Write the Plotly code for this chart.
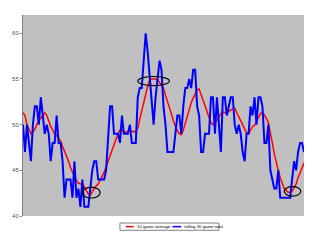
import plotly.graph_objects as go

games = list(range(143))

rolling_total = [
    50, 47, 50, 48, 46, 50, 52, 52, 50, 53, 51, 49, 50, 49, 46, 48, 48, 51, 48, 48,
    46, 42, 44, 44, 44, 42, 46, 42, 43, 41, 44, 41, 41, 41, 43, 45, 46, 46, 44, 44,
    44, 44, 45, 48, 52, 52, 49, 49, 49, 48, 51, 49, 49, 49, 50, 48, 48, 48, 53, 54,
    54, 57, 60, 58, 55, 52, 50, 53, 55, 57, 56, 52, 50, 47, 47, 47, 47, 49, 51, 51,
    49, 52, 54, 54, 55, 54, 56, 56, 52, 51, 47, 47, 49, 49, 49, 53, 53, 49, 53, 50,
    47, 53, 53, 51, 52, 53, 53, 50, 49, 50, 49, 47, 46, 49, 49, 52, 51, 53, 50, 53,
    53, 52, 48, 48, 50, 45, 44, 43, 43, 45, 42, 42, 42, 42, 42, 42, 44, 46, 45, 47,
    48, 48, 47,
]

avg10 = [
    51.3, 51.0, 50.0, 49.5, 49.0, 49.2, 49.5, 50.0, 50.5, 50.7, 51.0, 51.3, 51.0, 50.3, 49.8, 49.4, 49.0, 48.8, 48.5, 48.2,
    47.6, 47.1, 46.6, 46.0, 45.3, 44.7, 44.3, 43.9, 43.6, 43.5, 43.5, 43.2, 42.8, 42.4, 42.3, 42.7, 43.0, 43.3, 43.5, 43.9,
    44.3, 44.8, 45.4, 46.0, 46.8, 47.4, 47.9, 48.5, 49.0, 49.4, 49.4, 49.2, 49.2, 49.2, 49.4, 49.3, 49.2, 49.3, 49.6, 50.6,
    51.5, 52.6, 53.5, 54.2, 54.9, 55.0, 55.0, 55.0, 54.9, 54.6, 54.3, 54.0, 53.2, 52.6, 51.9, 51.2, 50.4, 49.8, 49.3, 49.0,
    48.9, 49.4, 50.2, 50.9, 51.7, 52.4, 52.9, 53.4, 53.8, 53.9, 53.3, 52.6, 52.0, 51.4, 50.9, 50.2, 50.0, 50.2, 50.5, 50.8,
    51.2, 51.4, 51.3, 51.3, 51.5, 51.6, 51.7, 51.8, 51.3, 50.9, 50.5, 50.0, 49.5, 49.1, 49.0, 49.5, 49.8, 49.9, 50.3, 50.7,
    51.2, 51.4, 51.1, 50.7, 50.2, 49.2, 48.0, 46.8, 45.8, 45.0, 44.2, 43.5, 43.0, 42.8, 42.6, 42.6, 42.7, 43.1, 43.5, 44.2,
    44.8, 45.3, 45.8,
]

y_ticks = [40, 45, 50, 55, 60]
series_names = ["10 game average", "rolling 30 game total"]

# highlight ellipses: (centre game, centre value, half width in games, half height in value)
highlight_x = [34.5, 66.0, 136.2]
highlight_y = [42.57, 54.77, 42.7]
highlight_dx = [4.5, 8.0, 4.2]
highlight_dy = [0.6, 0.5, 0.52]

fig = go.Figure()
fig.add_trace(go.Scatter(x=games, y=avg10, mode="lines", name=series_names[0],
                         line=dict(color="#FF0000", width=1.5)))
fig.add_trace(go.Scatter(x=games, y=rolling_total, mode="lines", name=series_names[1],
                         line=dict(color="#0000FF", width=2)))

shapes = []
for cx, cy, dx, dy in zip(highlight_x, highlight_y, highlight_dx, highlight_dy):
    shapes.append(dict(type="circle", xref="x", yref="y",
                       x0=cx - dx, x1=cx + dx, y0=cy - dy, y1=cy + dy,
                       line=dict(color="#000000", width=1.2)))

# compact legend (drawn below plot)
shapes.append(dict(type="rect", xref="paper", yref="paper",
                   x0=0.345, x1=0.697, y0=-0.071, y1=-0.035,
                   line=dict(color="#808080", width=1), fillcolor="white", layer="above"))
shapes.append(dict(type="line", xref="paper", yref="paper",
                   x0=0.366, x1=0.394, y0=-0.053, y1=-0.053,
                   line=dict(color="#FF0000", width=1.5)))
shapes.append(dict(type="line", xref="paper", yref="paper",
                   x0=0.532, x1=0.563, y0=-0.053, y1=-0.053,
                   line=dict(color="#0000FF", width=1.5)))

annotations = [
    dict(xref="paper", yref="paper", x=0.398, y=-0.053, text=series_names[0],
         showarrow=False, xanchor="left", yanchor="middle",
         font=dict(size=4.3, color="#000000", family="Liberation Sans")),
    dict(xref="paper", yref="paper", x=0.567, y=-0.053, text=series_names[1],
         showarrow=False, xanchor="left", yanchor="middle",
         font=dict(size=4.3, color="#000000", family="Liberation Sans")),
]

fig.update_layout(
    width=320, height=240,
    margin=dict(l=20, r=16, t=15, b=24),
    paper_bgcolor="white",
    plot_bgcolor="#C0C0C0",
    showlegend=False,
    shapes=shapes,
    annotations=annotations,
    xaxis=dict(range=[0, 142], showticklabels=False, showgrid=False, zeroline=False,
               showline=False, ticks=""),
    yaxis=dict(range=[40, 62], tickvals=y_ticks, showgrid=False, zeroline=False,
               showline=True, linecolor="#808080", linewidth=1,
               ticks="outside", ticklen=2, tickcolor="#808080",
               tickfont=dict(size=6, color="#555555", family="Liberation Sans")),
)

fig.write_html("out.html")
